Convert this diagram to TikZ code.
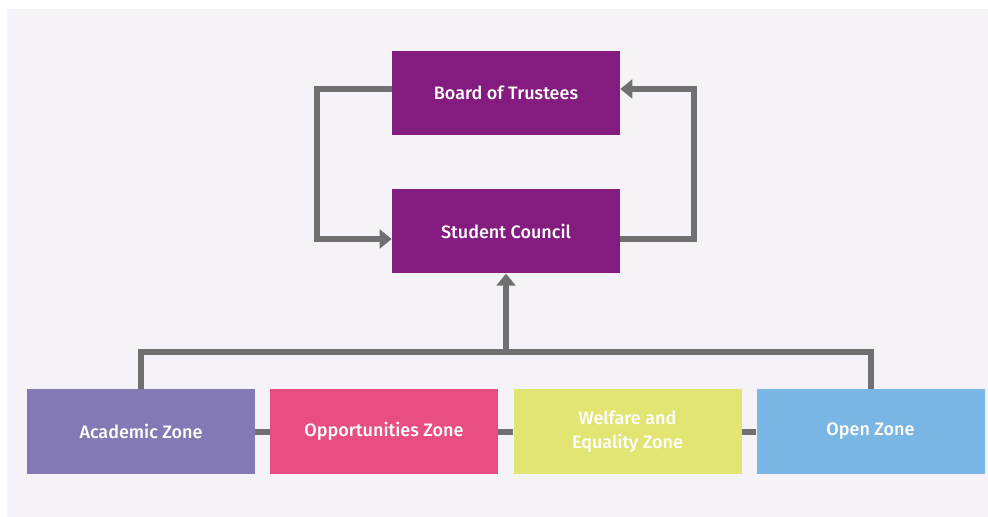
\documentclass[tikz,border=0pt]{standalone}
\usepackage{fontspec}
\setmainfont{Fira Sans}
\newfontfamily\boxfont{Fira Sans Medium}
\usetikzlibrary{arrows.meta}
\definecolor{panelbg}{HTML}{F5F3F7}
\definecolor{purp}{HTML}{841C7F}
\definecolor{acad}{HTML}{837AB5}
\definecolor{oppo}{HTML}{E84E82}
\definecolor{welf}{HTML}{E3E572}
\definecolor{openz}{HTML}{7AB6E3}
\definecolor{conn}{HTML}{707070}
\begin{document}
\begin{tikzpicture}[x=0.75pt,y=-0.75pt,
  box/.style={minimum width=171pt,minimum height=63.5pt,inner sep=0pt,text=white,align=center,
    font=\boxfont\fontsize{13.5}{18.5}\selectfont},
  connline/.style={draw=conn,line width=4.5pt,line join=miter},
  arr/.style={connline,-{Triangle[length=9pt,width=14pt]}}]
\useasboundingbox (0,0) rectangle (988,517);
\fill[panelbg] (7,9) rectangle (988,517);
\node[box,fill=purp] (board) at (506,93) {Board of Trustees};
\node[box,fill=purp] (council) at (506,231) {Student Council};
\node[box,fill=acad] (acad) at (141,431.5) {Academic Zone};
\node[box,fill=oppo] (oppo) at (384,431.5) {Opportunities Zone};
\node[box,fill=welf] (welf) at (627.5,431.5) {Welfare and\\Equality Zone};
\node[box,fill=openz] (open) at (870.5,431.5) {Open Zone};
\draw[arr] ([yshift=3pt]board.west) -- ++(-75,0) |- ([yshift=-6pt]council.west);
\draw[arr] ([yshift=-6pt]council.east) -- ++(74,0) |- ([yshift=3pt]board.east);
\draw[connline] (acad.north) -- ++(0,-37) -| (open.north);
\coordinate (bus) at (council.south |- 0,352);
\draw[arr] ([yshift=-2pt]bus) -- (council.south);
\draw[connline] (acad.east) -- (oppo.west);
\draw[connline] (oppo.east) -- (welf.west);
\draw[connline] (welf.east) -- (open.west);
\end{tikzpicture}
\end{document}
